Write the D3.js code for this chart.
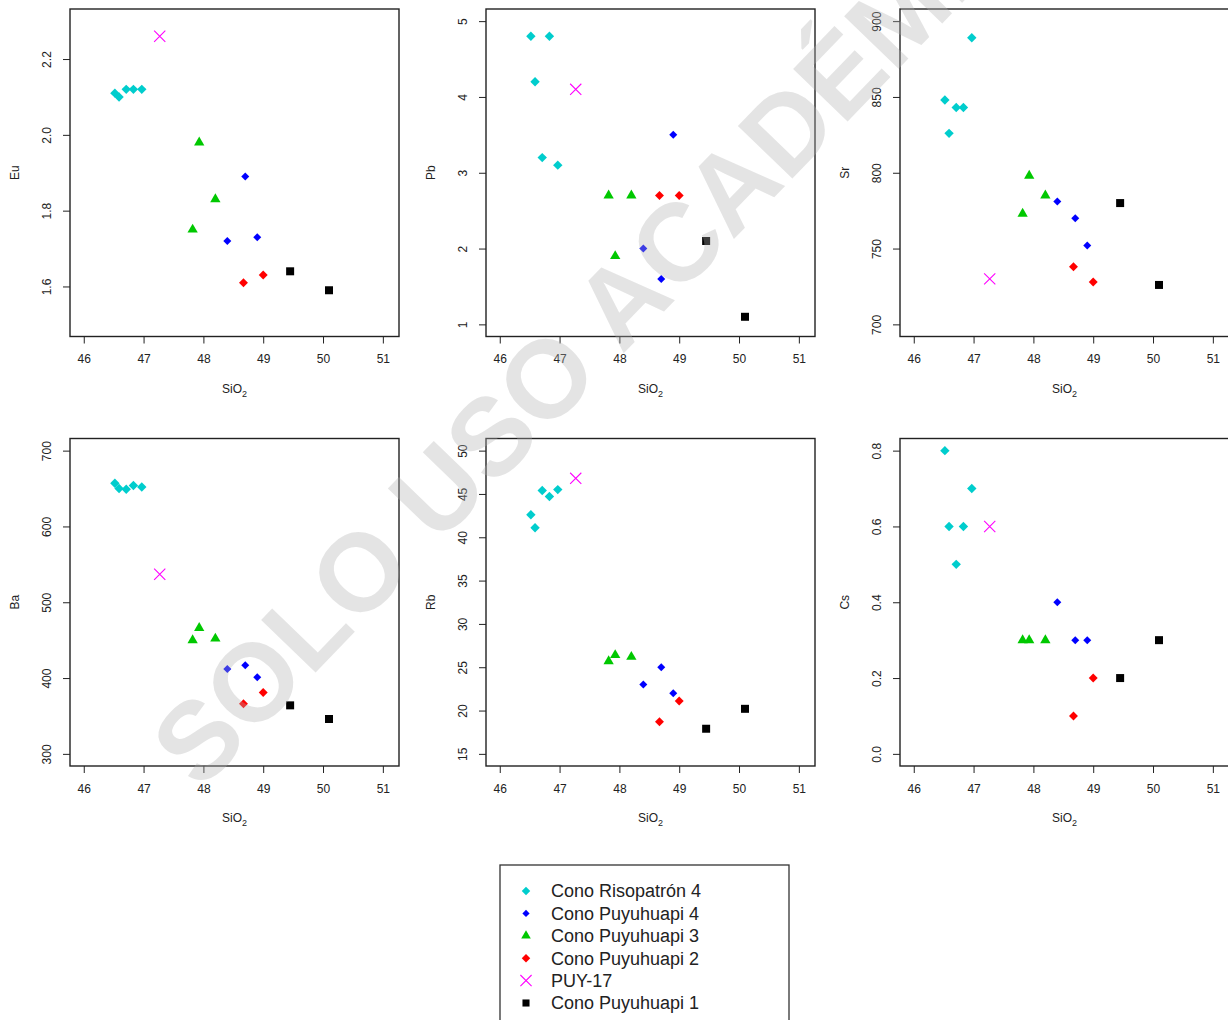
<!DOCTYPE html>
<html>
<head>
<meta charset="utf-8">
<script src="https://cdn.jsdelivr.net/npm/d3@7"></script>
<style>
  body { margin: 0; background: #fff; }
  svg text { font-family: "Liberation Sans", Arial, sans-serif; fill: #222; }
</style>
</head>
<body>
<svg class="svg-plots"></svg>
<script>
// groups (legend order)
const groupNames = ["Cono Risopatrón 4", "Cono Puyuhuapi 4", "Cono Puyuhuapi 3", "Cono Puyuhuapi 2", "PUY-17", "Cono Puyuhuapi 1"]
const groupColors = ["#00cdcd", "#0000ff", "#00c800", "#ff0000", "#ff00ff", "#000000"]
const groupShapes = ["diamond", "diamond", "triangle", "diamond", "cross", "square"]

// SiO2 per group
const sio2Ris4 = [46.52, 46.59, 46.71, 46.83, 46.97]
const sio2Puy4 = [48.40, 48.70, 48.90]
const sio2Puy3 = [47.82, 47.93, 48.20]
const sio2Puy2 = [48.67, 49.00]
const sio2Puy17 = [47.27]
const sio2Puy1 = [49.45, 50.10]

// element values, same order as SiO2 arrays
const euRis4 = [2.11, 2.10, 2.12, 2.12, 2.12], euPuy4 = [1.72, 1.89, 1.73], euPuy3 = [1.75, 1.98, 1.83], euPuy2 = [1.61, 1.63], euPuy17 = [2.26], euPuy1 = [1.64, 1.59]
const pbRis4 = [4.8, 4.2, 3.2, 4.8, 3.1], pbPuy4 = [2.0, 1.6, 3.5], pbPuy3 = [2.7, 1.9, 2.7], pbPuy2 = [2.7, 2.7], pbPuy17 = [4.1], pbPuy1 = [2.1, 1.1]
const srRis4 = [848, 826, 843, 843, 889], srPuy4 = [781, 770, 752], srPuy3 = [773, 798, 785], srPuy2 = [738, 728], srPuy17 = [730], srPuy1 = [780, 726]
const baRis4 = [657, 650, 649, 654, 652], baPuy4 = [412, 417, 401], baPuy3 = [450, 466, 452], baPuy2 = [366, 381], baPuy17 = [537], baPuy1 = [364, 346]
const rbRis4 = [42.6, 41.1, 45.4, 44.7, 45.5], rbPuy4 = [23.0, 25.0, 22.0], rbPuy3 = [25.7, 26.4, 26.2], rbPuy2 = [18.7, 21.1], rbPuy17 = [46.8], rbPuy1 = [17.9, 20.2]
const csRis4 = [0.8, 0.6, 0.5, 0.6, 0.7], csPuy4 = [0.4, 0.3, 0.3], csPuy3 = [0.3, 0.3, 0.3], csPuy2 = [0.1, 0.2], csPuy17 = [0.6], csPuy1 = [0.2, 0.3]

// axis ticks
const xTicks = [46, 47, 48, 49, 50, 51]
const euTicks = [1.6, 1.8, 2.0, 2.2]
const pbTicks = [1, 2, 3, 4, 5]
const srTicks = [700, 750, 800, 850, 900]
const baTicks = [300, 400, 500, 600, 700]
const rbTicks = [15, 20, 25, 30, 35, 40, 45, 50]
const csTicks = [0.0, 0.2, 0.4, 0.6, 0.8]

const sio2All = [sio2Ris4, sio2Puy4, sio2Puy3, sio2Puy2, sio2Puy17, sio2Puy1]

var panels = [
    { name: "Eu", vals: [euRis4, euPuy4, euPuy3, euPuy2, euPuy17, euPuy1], ticks: euTicks, lim: [1.5, 2.3], fmt: ".1f" },
    { name: "Pb", vals: [pbRis4, pbPuy4, pbPuy3, pbPuy2, pbPuy17, pbPuy1], ticks: pbTicks, lim: [1, 5], fmt: "d" },
    { name: "Sr", vals: [srRis4, srPuy4, srPuy3, srPuy2, srPuy17, srPuy1], ticks: srTicks, lim: [700, 900], fmt: "d" },
    { name: "Ba", vals: [baRis4, baPuy4, baPuy3, baPuy2, baPuy17, baPuy1], ticks: baTicks, lim: [300, 700], fmt: "d" },
    { name: "Rb", vals: [rbRis4, rbPuy4, rbPuy3, rbPuy2, rbPuy17, rbPuy1], ticks: rbTicks, lim: [15, 50], fmt: "d" },
    { name: "Cs", vals: [csRis4, csPuy4, csPuy3, csPuy2, csPuy17, csPuy1], ticks: csTicks, lim: [0, 0.8], fmt: ".1f" }
]

var W = 1228, H = 1020
var plotW = 329, plotH = 327.5
var colLeft = [70, 486, 900]
var rowTop = [9, 438.5]
var xDomain = [45.77, 51.27]

var svg = d3.select('.svg-plots')
    .attr('width', W)
    .attr('height', H)

// symbol size per group (area)
var symSize = [44, 32, 46, 40, 0, 64]

function symbolPath(shape, size) {
    if (shape === "cross") {
        var s = size
        return `M${-s},${-s}L${s},${s}M${-s},${s}L${s},${-s}`
    }
    if (shape === "triangle") return d3.symbol().type(d3.symbolTriangle).size(size)()
    return d3.symbol().type(d3.symbolSquare).size(size)()
}

function drawMark(g, shape, color, x, y, size) {
    var p = g.append('path')
        .attr('d', symbolPath(shape, shape === "cross" ? 5.6 : size))
    if (shape === "cross") {
        p.attr('transform', `translate(${x},${y})`)
            .attr('fill', 'none').attr('stroke', color).attr('stroke-width', 1.1)
    } else {
        var rot = shape === "diamond" ? ' rotate(45)' : ''
        p.attr('transform', `translate(${x},${y})${rot}`)
            .attr('fill', color)
    }
}

panels.forEach(function (pan, i) {
    var left = colLeft[i % 3], top = rowTop[Math.floor(i / 3)]
    var ext = (pan.lim[1] - pan.lim[0]) * 0.04

    var x_scale = d3.scaleLinear().domain(xDomain).range([0, plotW])
    var y_scale = d3.scaleLinear()
        .domain([pan.lim[0] - ext, pan.lim[1] + ext])
        .range([plotH, 0])

    var g = svg.append('g').attr('transform', `translate(${left},${top})`)

    // x axis
    var xa = d3.axisBottom(x_scale).tickValues(xTicks).tickSize(7).tickFormat(d3.format("d"))
    var gx = g.append('g').attr('transform', `translate(0,${plotH})`).call(xa)
    gx.select('.domain').remove()
    gx.selectAll('line').attr('stroke', '#222')
    gx.selectAll('text').attr('font-size', 12).attr('y', 18).attr('dy', '0.71em').attr('fill', '#222')

    // y axis, labels turned like R
    var ya = d3.axisLeft(y_scale).tickValues(pan.ticks).tickSize(7).tickFormat(d3.format(pan.fmt))
    var gy = g.append('g').call(ya)
    gy.select('.domain').remove()
    gy.selectAll('line').attr('stroke', '#222')
    gy.selectAll('text')
        .attr('font-size', 12)
        .attr('fill', '#222')
        .attr('x', null).attr('dy', null)
        .attr('text-anchor', 'middle')
        .attr('transform', 'translate(-23,0) rotate(-90)')
        .attr('y', 4.2)

    // axis titles
    var xt = g.append('text')
        .attr('x', plotW / 2)
        .attr('y', plotH + 56)
        .attr('text-anchor', 'middle')
        .attr('font-size', 12)
    xt.append('tspan').text('SiO')
    xt.append('tspan').text('2').attr('font-size', 9).attr('dy', 4)

    g.append('text')
        .attr('transform', `translate(-55,${plotH / 2}) rotate(-90)`)
        .attr('dy', '0.35em')
        .attr('text-anchor', 'middle')
        .attr('font-size', 12)
        .text(pan.name)

    // points
    var pts = g.append('g')
    pan.vals.forEach(function (arr, gi) {
        arr.forEach(function (v, k) {
            drawMark(pts, groupShapes[gi], groupColors[gi], x_scale(sio2All[gi][k]), y_scale(v), symSize[gi])
        })
    })

    // box
    g.append('rect')
        .attr('width', plotW).attr('height', plotH)
        .attr('fill', 'none').attr('stroke', '#222').attr('stroke-width', 1.4)
})

// legend
var leg = svg.append('g').attr('transform', 'translate(500,865)')
leg.append('rect')
    .attr('width', 289).attr('height', 170)
    .attr('fill', 'none').attr('stroke', '#333').attr('stroke-width', 1.3)

var legY = d3.scalePoint().domain(groupNames).range([26, 138])
var legSize = [36, 26, 40, 36, 0, 50]
groupNames.forEach(function (nm, gi) {
    drawMark(leg, groupShapes[gi], groupColors[gi], 26, legY(nm), legSize[gi])
    leg.append('text')
        .attr('x', 51)
        .attr('y', legY(nm))
        .attr('dy', '0.36em')
        .attr('font-size', 18)
        .text(nm)
})

// watermark on top
svg.append('text')
    .attr('transform', 'translate(200,792) rotate(-46)')
    .attr('font-size', 110)
    .attr('font-weight', 'bold')
    .style('fill', 'rgb(175,175,175)')
    .attr('fill-opacity', 0.34)
    .text('SOLO USO ACADÉMICO')
</script>
</body>
</html>
